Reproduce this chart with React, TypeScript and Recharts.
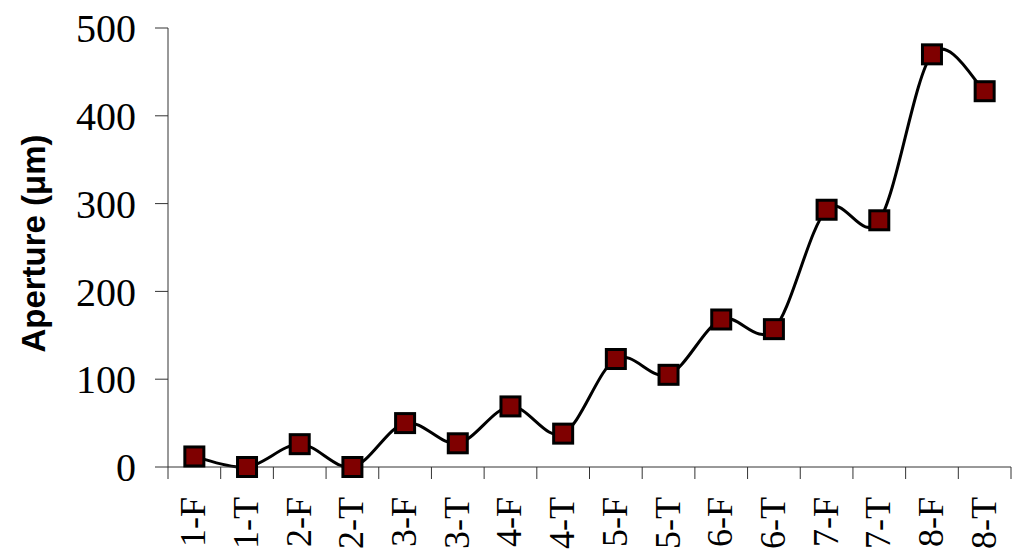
import { Line, LineChart, XAxis, YAxis } from "recharts";

const categories = ["1-F", "1-T", "2-F", "2-T", "3-F", "3-T", "4-F", "4-T", "5-F", "5-T", "6-F", "6-T", "7-F", "7-T", "8-F", "8-T"];
const aperture = [12, 0, 26, 0, 50, 27, 69, 38, 123, 105, 168, 157, 293, 281, 470, 428];
const yTicks = [0, 100, 200, 300, 400, 500];

const data = categories.map((name, i) => ({ name, aperture: aperture[i] }));

const SERIF = "'Liberation Serif', 'Times New Roman', serif";
const SANS = "'Liberation Sans', Arial, sans-serif";
const AXIS = "#333";

// Excel-like smoothing: Catmull-Rom through the points, as a d3 curve factory
function smoothCurve(context: any) {
  let pts: [number, number][] = [];
  return {
    areaStart() {},
    areaEnd() {},
    lineStart() {
      pts = [];
    },
    lineEnd() {
      const n = pts.length;
      if (!n) return;
      context.moveTo(pts[0][0], pts[0][1]);
      for (let i = 0; i < n - 1; i++) {
        const p0 = pts[Math.max(i - 1, 0)];
        const p1 = pts[i];
        const p2 = pts[i + 1];
        const p3 = pts[Math.min(i + 2, n - 1)];
        context.bezierCurveTo(
          p1[0] + (p2[0] - p0[0]) / 6,
          p1[1] + (p2[1] - p0[1]) / 6,
          p2[0] - (p3[0] - p1[0]) / 6,
          p2[1] - (p3[1] - p1[1]) / 6,
          p2[0],
          p2[1],
        );
      }
    },
    point(x: number, y: number) {
      pts.push([+x, +y]);
    },
  };
}

function SquareDot(props: any) {
  const { cx, cy } = props;
  if (cx == null || cy == null) return null;
  const s = 19;
  return <rect x={cx - s / 2} y={cy - s / 2} width={s} height={s} fill="#7f0000" stroke="#000" strokeWidth={3} />;
}

function CategoryTick(props: any) {
  const { x, y, payload, index } = props;
  const half = payload?.offset || 26.3;
  return (
    <g>
      <line x1={x - half} x2={x - half} y1={y} y2={y + 12} stroke={AXIS} strokeWidth={1} />
      {index === categories.length - 1 ? (
        <line x1={x + half} x2={x + half} y1={y} y2={y + 12} stroke={AXIS} strokeWidth={1} />
      ) : null}
      <text
        transform={`translate(${x + 11}, ${y + 30}) rotate(-90)`}
        textAnchor="end"
        fontFamily={SERIF}
        fontSize={36}
        fill="#000"
      >
        {payload.value}
      </text>
    </g>
  );
}

function YTitle(props: any) {
  const vb = props.viewBox || { x: 0, y: 28, width: 168, height: 439 };
  const cx = 45;
  const cy = vb.y + vb.height / 2 - 4;
  return (
    <text
      transform={`translate(${cx}, ${cy}) rotate(-90)`}
      textAnchor="middle"
      fontFamily={SANS}
      fontWeight="bold"
      fontSize={33}
      fill="#000"
    >
      Aperture (μm)
    </text>
  );
}

export default function App() {
  return (
    <div style={{ position: "absolute", left: 0, top: 0, width: 1012, height: 552, background: "#fff" }}>
      <LineChart width={1012} height={552} data={data} margin={{ top: 28, right: 1, bottom: 0, left: 0 }}>
        <XAxis
          dataKey="name"
          scale="band"
          height={85}
          interval={0}
          tickSize={0}
          tickMargin={0}
          tickLine={false}
          axisLine={{ stroke: AXIS, strokeWidth: 1 }}
          tick={<CategoryTick />}
        />
        <YAxis
          width={168}
          domain={[0, 500]}
          ticks={yTicks}
          interval={0}
          tickSize={13}
          tickMargin={19}
          axisLine={{ stroke: AXIS, strokeWidth: 1 }}
          tickLine={{ stroke: AXIS, strokeWidth: 1 }}
          tick={{ fill: "#000", fontSize: 40, fontFamily: SERIF }}
          label={<YTitle />}
        />
        <Line
          dataKey="aperture"
          type={smoothCurve as any}
          stroke="#000"
          strokeWidth={3}
          dot={<SquareDot />}
          activeDot={false}
          isAnimationActive={false}
        />
      </LineChart>
    </div>
  );
}
